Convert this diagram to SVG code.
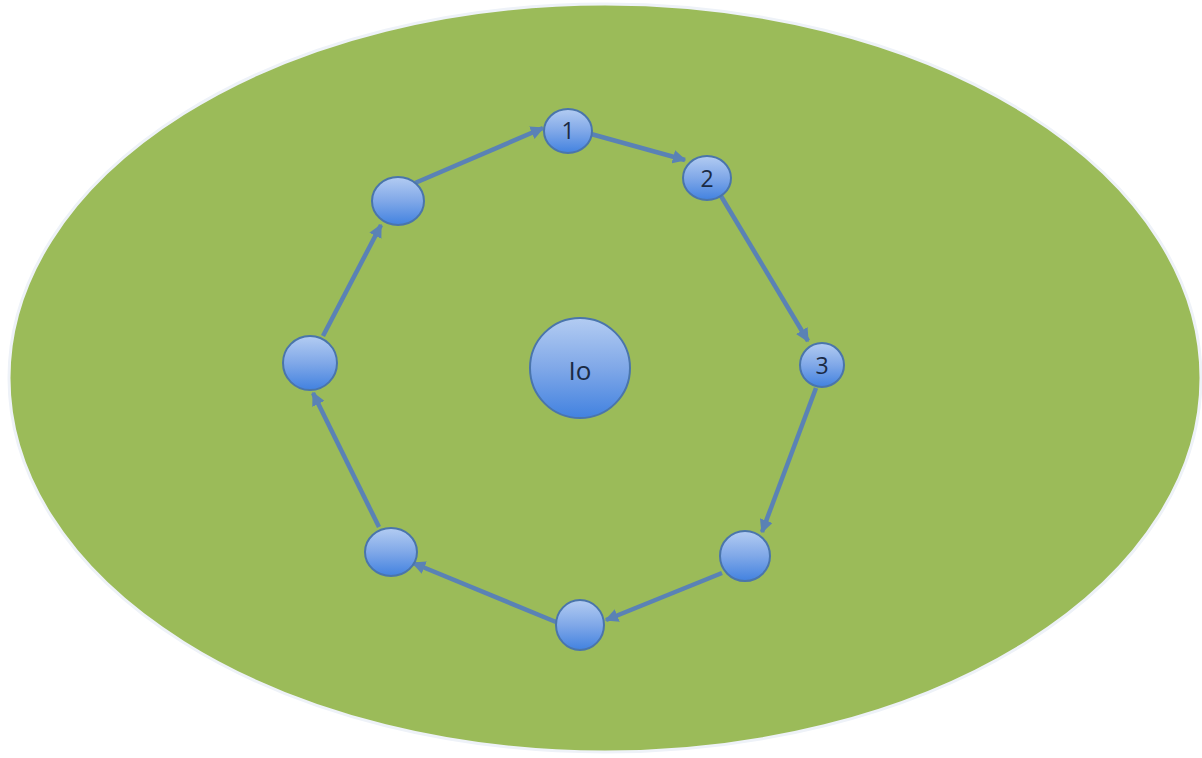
<svg xmlns="http://www.w3.org/2000/svg" width="1202" height="758" viewBox="0 0 1202 758">
<defs>
<linearGradient id="g" x1="0" y1="0" x2="0" y2="1">
<stop offset="0" stop-color="#b3ccf2"/>
<stop offset="0.5" stop-color="#80a8e8"/>
<stop offset="1" stop-color="#4282e0"/>
</linearGradient>
<marker id="ah" viewBox="0 0 10 10" refX="9" refY="5" markerWidth="3" markerHeight="3" orient="auto">
<path d="M0,0 L10,5 L0,10 z" fill="#5a82b5"/>
</marker>
<style>
.n{fill:url(#g);stroke:#4a75ab;stroke-width:2}
.t{font-family:"Open Sans","Liberation Sans",sans-serif;font-size:23px;fill:#1a2a44;text-anchor:middle;dominant-baseline:central}
.c{stroke:#5a82b5;stroke-width:4.5;fill:none;marker-end:url(#ah)}
</style>
</defs>
<rect width="1202" height="758" fill="#ffffff"/>
<ellipse cx="605" cy="378" rx="596" ry="374" fill="#9bbb59" stroke="#eef2f8" stroke-width="3"/>
<g id="connectors">
<line class="c" x1="415" y1="183" x2="543" y2="128"/>
<line class="c" x1="591" y1="134" x2="685" y2="160"/>
<line class="c" x1="721" y1="196" x2="808" y2="341"/>
<line class="c" x1="816" y1="388" x2="762" y2="532"/>
<line class="c" x1="722" y1="573" x2="606" y2="620"/>
<line class="c" x1="556" y1="622" x2="413" y2="563"/>
<line class="c" x1="379" y1="527" x2="313" y2="393"/>
<line class="c" x1="323" y1="336" x2="381" y2="225"/>
</g>
<g id="io"><circle class="n" cx="580" cy="368" r="50"/><text class="t" x="580" y="370" style="font-size:26px">Io</text></g>
<g id="n1"><ellipse class="n" cx="568" cy="131" rx="24" ry="22"/><text class="t" x="568" y="130">1</text></g>
<g id="n2"><ellipse class="n" cx="707" cy="178" rx="24" ry="22"/><text class="t" x="707" y="178">2</text></g>
<g id="n3"><ellipse class="n" cx="822" cy="365" rx="22" ry="22"/><text class="t" x="822" y="365">3</text></g>
<g id="n4"><ellipse class="n" cx="745" cy="556" rx="25" ry="25"/></g>
<g id="n5"><ellipse class="n" cx="580" cy="625" rx="24" ry="25"/></g>
<g id="n6"><ellipse class="n" cx="391" cy="552" rx="26" ry="24"/></g>
<g id="n7"><ellipse class="n" cx="310" cy="363" rx="27" ry="27"/></g>
<g id="n8"><ellipse class="n" cx="398" cy="201" rx="26" ry="24"/></g>
</svg>
